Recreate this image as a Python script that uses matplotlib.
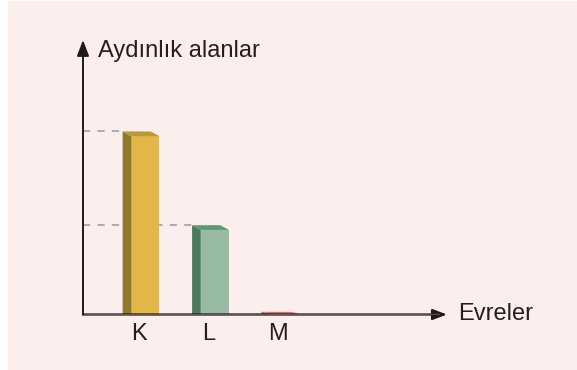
import numpy as np
import matplotlib.pyplot as plt
from matplotlib.patches import Rectangle

plt.rcParams['font.family'] = ['Liberation Sans', 'DejaVu Sans']

# phases and the lit area in each (L taken as one unit)
phases = ['K', 'L', 'M']
areas = [2.05, 1.0, 0.03]
front_cols = ['#e1b847', '#97bca1', '#ef7b6b']
side_cols = ['#8f792a', '#497a59', '#b95c50']
top_cols = ['#b99a3b', '#5f9677', '#d86c5e']

BAR_W = 0.53   # full bar width incl. side face
DX = 0.125     # depth of the fake 3d side
DY = 0.053
TXT = '#231f20'

fig = plt.figure(figsize=(5.77, 3.70), dpi=100)
fig.patch.set_facecolor('white')
fig.patches.append(Rectangle((8 / 577, 0), 1, 369 / 370, transform=fig.transFigure,
                             facecolor='#fdeeee', edgecolor='none', zorder=-5))

ax = fig.add_axes([83 / 577, 55.5 / 370, 364 / 577, 274.5 / 370])
ax.set_xlim(-0.835, 4.403)
ax.set_ylim(0, 3.074)
ax.axis('off')

x0 = ax.get_xlim()[0]

# guide lines from the y axis to the top of the first two bars
for i, v in enumerate(areas[:2]):
    left = i - BAR_W / 2
    ax.plot([x0, left], [v, v], color='#a9a4a6', lw=1.3, dashes=(4, 4), zorder=1)

for i, v in enumerate(areas):
    left = i - BAR_W / 2
    right = i + BAR_W / 2
    dy = min(DY, v / 2)
    # front face
    ax.fill([left + DX, right, right, left + DX], [0, 0, v - dy, v - dy],
            color=front_cols[i], lw=0, zorder=3)
    # side face
    ax.fill([left, left + DX, left + DX, left], [0, 0, v - dy, v],
            color=side_cols[i], lw=0, zorder=3)
    # top face
    ax.fill([left, right - DX, right, left + DX], [v, v, v - dy, v - dy],
            color=top_cols[i], lw=0, zorder=3)
    ax.annotate(phases[i], (i - 0.03, 0), xytext=(0, -18.4), textcoords='offset points',
                ha='center', va='baseline', fontsize=17, color=TXT)

# axes with arrow heads
ax.annotate('', xy=(1, 0), xytext=(0, 0), xycoords='axes fraction',
            arrowprops=dict(arrowstyle='-|>,head_length=0.85,head_width=0.32',
                            mutation_scale=10, color='#1e1a1b', lw=1.6,
                            shrinkA=0, shrinkB=0), zorder=4)
ax.plot([x0, 4.3], [0, 0], color='#5b5157', lw=1.6, zorder=4, solid_capstyle='butt')
ax.annotate('', xy=(0, 1), xytext=(0, 0), xycoords='axes fraction',
            arrowprops=dict(arrowstyle='-|>,head_length=0.95,head_width=0.36',
                            mutation_scale=10, color='#1e1a1b', lw=1.4,
                            shrinkA=0, shrinkB=0), zorder=4)

ax.annotate('Aydınlık alanlar', (0, 1), xycoords='axes fraction',
            xytext=(10.8, -12.5), textcoords='offset points',
            ha='left', va='baseline', fontsize=17, color=TXT)
ax.annotate('Evreler', (1, 0), xycoords='axes fraction',
            xytext=(7.9, -4.0), textcoords='offset points',
            ha='left', va='baseline', fontsize=17, color=TXT)

fig.savefig('out.png', dpi=100)
